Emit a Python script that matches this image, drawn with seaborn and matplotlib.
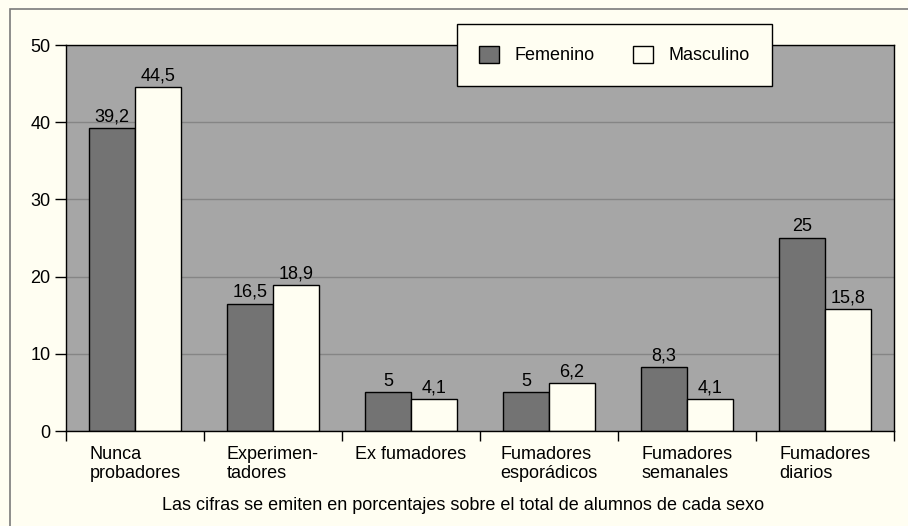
import pandas as pd
import seaborn as sns
import matplotlib.pyplot as plt
from matplotlib.patches import Rectangle
from matplotlib.ticker import FixedLocator

# Datos
categorias = ['Nunca\nprobadores', 'Experimen-\ntadores', 'Ex fumadores',
              'Fumadores\nesporádicos', 'Fumadores\nsemanales', 'Fumadores\ndiarios']
femenino = [39.2, 16.5, 5, 5, 8.3, 25]
masculino = [44.5, 18.9, 4.1, 6.2, 4.1, 15.8]
etiquetas_fem = ['39,2', '16,5', '5', '5', '8,3', '25']
etiquetas_mas = ['44,5', '18,9', '4,1', '6,2', '4,1', '15,8']
nota = 'Las cifras se emiten en porcentajes sobre el total de alumnos de cada sexo'

df = pd.DataFrame({
    'categoria': categorias * 2,
    'sexo': ['Femenino'] * len(categorias) + ['Masculino'] * len(categorias),
    'valor': femenino + masculino,
})

bg = '#FFFEF2'
fs = 13
sns.set_style('white')
plt.rcParams['font.family'] = ['Liberation Sans', 'DejaVu Sans']
plt.rcParams['text.color'] = 'black'
plt.rcParams['xtick.color'] = 'black'
plt.rcParams['ytick.color'] = 'black'

fig = plt.figure(figsize=(9.08, 5.26), dpi=100, facecolor=bg)
ax = fig.add_axes([66 / 908, 1 - 431 / 526, 828 / 908, 386 / 526])
ax.set_facecolor('#A6A6A6')

sns.barplot(data=df, x='categoria', y='valor', hue='sexo', order=categorias,
            palette={'Femenino': '#737373', 'Masculino': bg},
            width=0.67, edgecolor='black', linewidth=1, saturation=1, ax=ax)

for cont, labs in zip(ax.containers, [etiquetas_fem, etiquetas_mas]):
    ax.bar_label(cont, labels=labs, padding=2, fontsize=fs, color='black')

ax.set_ylim(0, 50)
ax.set_xlim(-0.5, len(categorias) - 0.5)
ax.set_yticks(range(0, 51, 10))
ax.yaxis.grid(True, color='#858585', linewidth=1)
ax.set_axisbelow(True)
for s in ax.spines.values():
    s.set_color('black')
    s.set_linewidth(1)

ax.tick_params(axis='y', length=8, width=1, direction='out', labelsize=fs, pad=3, left=True)
ax.tick_params(axis='x', which='major', length=0, labelsize=fs, pad=11)
ax.xaxis.set_minor_locator(FixedLocator([i - 0.5 for i in range(len(categorias) + 1)]))
ax.tick_params(axis='x', which='minor', length=7, width=1, direction='out', bottom=True)
for t in ax.get_xticklabels():
    t.set_multialignment('left')
    t.set_verticalalignment('top')
    t.set_linespacing(1.1)
ax.set_xlabel('')
ax.set_ylabel('')

leg = ax.legend(loc='upper left', bbox_to_anchor=(457 / 908, 1 - 24 / 526),
                bbox_transform=fig.transFigure, ncol=2, frameon=True,
                fancybox=False, edgecolor='black', facecolor=bg, framealpha=1,
                fontsize=fs, handlelength=1.1, handleheight=1.1,
                columnspacing=2.1, borderpad=1.2, handletextpad=0.9,
                borderaxespad=0)
leg.get_frame().set_linewidth(1)
leg.set_title(None)

fig.text(463 / 908, 1 - 506 / 526, nota, ha='center', va='center', fontsize=fs)

# marco exterior
fig.patches.append(Rectangle((10 / 908, -0.1), 1.2, 1 - 9 / 526 + 0.1,
                             transform=fig.transFigure, fill=False,
                             edgecolor='#7a7a7a', linewidth=1.2, zorder=0))

plt.savefig('out.png', dpi=100, facecolor=bg)
